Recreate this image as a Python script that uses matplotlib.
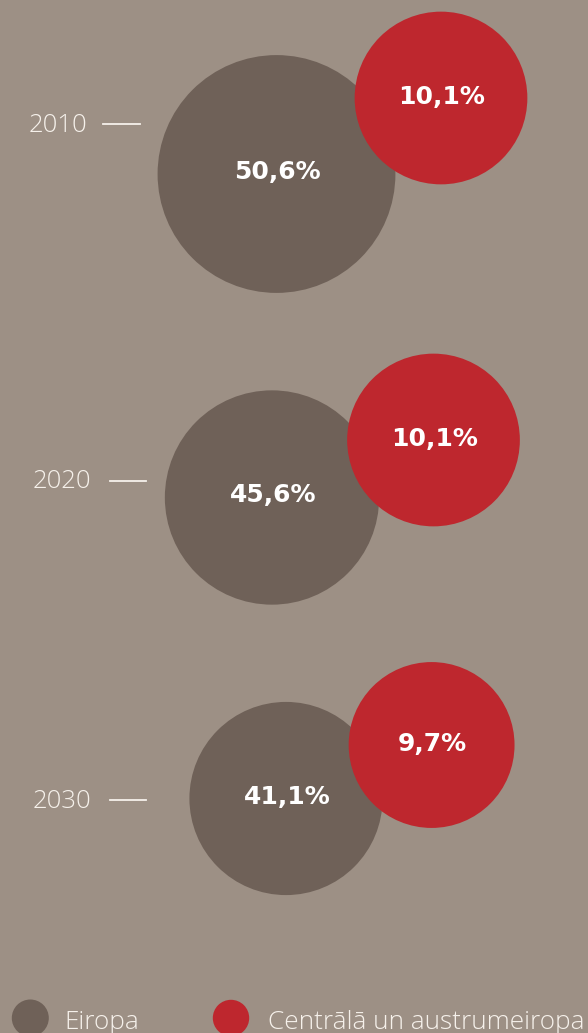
import matplotlib.pyplot as plt
from matplotlib.patches import Circle

# share of population by year: Europe vs Central & Eastern Europe
years = ["2010", "2020", "2030"]
europe = [50.6, 45.6, 41.1]
cee = [10.1, 10.1, 9.7]
legend_labels = ["Eiropa", "Centrālā un austrumeiropa"]

BG = "#9d9085"
GREY = "#6f6158"
RED = "#be272e"
LIGHT = "#f6f1eb"
THIN_FONT = "Open Sans"

# layout in pixel units (1 data unit = 1 px)
grey_xy = [(276.5, 174), (272, 497.5), (286, 798.5)]
red_xy = [(441, 98), (433.5, 440), (431.6, 745)]
year_x = [29, 33, 33]
year_y = [124, 481, 800]
tick_x = [(103, 140), (109.5, 145.5), (109.5, 145.5)]

# radius scales (px per percentage point)
k_grey = 2.35
k_red = 8.55


def fmt(v):
    return f"{v:.1f}".replace(".", ",") + "%"


fig = plt.figure(figsize=(5.88, 10.33), dpi=100, facecolor=BG)
ax = fig.add_axes([0, 0, 1, 1])
ax.set_facecolor(BG)
ax.set_xlim(0, 588)
ax.set_ylim(1033, 0)
ax.axis("off")

for i, yr in enumerate(years):
    ax.add_patch(Circle(grey_xy[i], europe[i] * k_grey, color=GREY, lw=0, zorder=2))
    ax.add_patch(Circle(red_xy[i], cee[i] * k_red, color=RED, lw=0, zorder=3))

    ax.text(grey_xy[i][0] + 1, grey_xy[i][1] - 2, fmt(europe[i]), color="white",
            fontsize=18, fontweight="bold", family="DejaVu Sans",
            ha="center", va="center", zorder=4)
    ax.text(red_xy[i][0] + 1, red_xy[i][1] - 1, fmt(cee[i]), color="white",
            fontsize=18, fontweight="bold", family="DejaVu Sans",
            ha="center", va="center", zorder=4)

    # year label sits a touch above the tick line
    ax.text(year_x[i], year_y[i] - 2, yr, color=LIGHT, fontsize=18.5,
            family=THIN_FONT, fontweight="light", ha="left", va="center_baseline")
    ax.plot(tick_x[i], [year_y[i], year_y[i]], color=LIGHT, lw=1.3)

# legend drawn by hand along the bottom edge
ax.add_patch(Circle((30.3, 1018), 18.5, color=GREY, lw=0))
ax.add_patch(Circle((231, 1018), 18.2, color=RED, lw=0))
ax.text(64, 1029, legend_labels[0], color=LIGHT, fontsize=18.8,
        family=THIN_FONT, fontweight="light", ha="left", va="baseline")
ax.text(268, 1029, legend_labels[1], color=LIGHT, fontsize=18.8,
        family=THIN_FONT, fontweight="light", ha="left", va="baseline")

fig.savefig("out.png", dpi=100, facecolor=BG)
